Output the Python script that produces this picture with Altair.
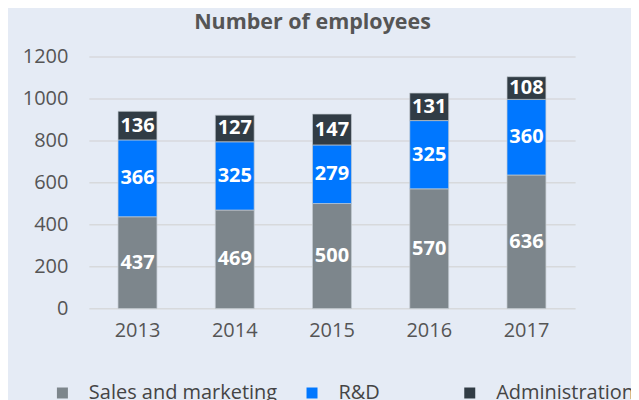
import altair as alt
import pandas as pd

years = ["2013", "2014", "2015", "2016", "2017"]
sales = [437, 469, 500, 570, 636]
rnd = [366, 325, 279, 325, 360]
admin = [136, 127, 147, 131, 108]
categories = ["Sales and marketing", "R&D", "Administration"]
colors = ["#7d868c", "#0077ff", "#313c45"]
y_ticks = [0, 200, 400, 600, 800, 1000, 1200]

rows = []
for i, y in enumerate(years):
    for k, (cat, vals) in enumerate(zip(categories, [sales, rnd, admin])):
        rows.append({"year": y, "category": cat, "value": vals[i], "ord": k})
df = pd.DataFrame(rows)

FONT = "Open Sans"
pad_rd = "R&D" + "\u00a0" * 2 + "\u2800" * 3

x_enc = alt.X(
    "year:N",
    title=None,
    scale=alt.Scale(paddingInner=0.6, paddingOuter=0.3),
    axis=alt.Axis(labelAngle=0, labelFontSize=20, labelColor="#555555",
                  labelFont=FONT, ticks=False, domain=False, labelPadding=12,
                  grid=False),
)

base = alt.Chart(df)

bars = base.mark_bar(stroke="#c3c9cf", strokeWidth=0.7).encode(
    x=x_enc,
    y=alt.Y(
        "value:Q",
        stack="zero",
        title=None,
        scale=alt.Scale(domain=[0, 1200], nice=False),
        axis=alt.Axis(values=y_ticks, format="d", labelFontSize=20,
                      labelColor="#555555", labelFont=FONT, ticks=False,
                      domain=False, labelPadding=21,
                      gridColor="#d7d9dc", gridWidth=1.5),
    ),
    color=alt.Color(
        "category:N",
        scale=alt.Scale(domain=categories, range=colors),
        sort=categories,
        legend=alt.Legend(
            title=None, orient="none", direction="horizontal",
            legendX=-36.5, legendY=327, padding=0,
            symbolType="square", symbolSize=121, symbolStrokeWidth=0,
            labelFontSize=20, labelColor="#444444", labelFont=FONT,
            labelOffset=16.5, columnPadding=24, labelLimit=400,
            labelExpr=f"datum.label == 'R&D' ? '{pad_rd}' : datum.label",
        ),
    ),
    order=alt.Order("ord:Q", sort="ascending"),
)

labels = base.transform_stack(
    stack="value", groupby=["year"], as_=["y0", "y1"],
    sort=[alt.SortField("ord", order="ascending")],
).transform_calculate(
    mid="(datum.y0 + datum.y1) / 2"
).mark_text(
    color="white", fontWeight="bold", fontSize=20, font=FONT, baseline="middle"
).encode(
    x=alt.X("year:N"),
    y=alt.Y("mid:Q"),
    text=alt.Text("value:Q"),
)

chart = alt.layer(bars, labels).properties(
    width=487,
    height=252.4,
    title=alt.TitleParams(
        "Number of employees", fontSize=21.5, fontWeight="bold", color="#555555",
        font=FONT, anchor="middle", dx=-19.5, offset=13,
    ),
    autosize=alt.AutoSizeParams(type="none"),
    padding={"left": 81, "top": 48.3, "right": 56, "bottom": 100},
    background="#e5ebf5",
).configure_view(stroke=None)

chart.save("out.html", embed_options={"renderer": "svg", "actions": False})
